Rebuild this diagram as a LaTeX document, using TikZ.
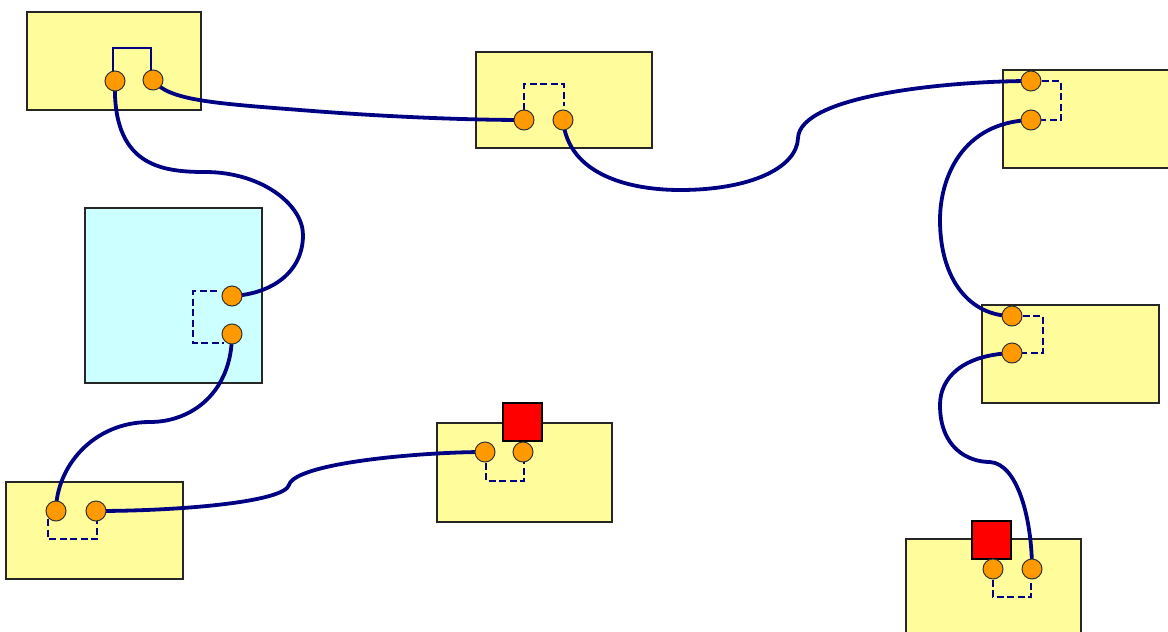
\documentclass[tikz,border=0pt]{standalone}
\usetikzlibrary{calc}
\definecolor{boxyellow}{RGB}{255,252,155}
\definecolor{boxcyan}{RGB}{204,255,255}
\definecolor{portorange}{RGB}{255,153,0}
\definecolor{wirenavy}{RGB}{0,0,130}
\definecolor{capred}{RGB}{255,0,0}
\pgfdeclarelayer{bg}
\pgfdeclarelayer{wires}
\pgfsetlayers{bg,wires,main}
\tikzset{
  unit/.style={draw=black!85, line width=1.2pt, fill=boxyellow},
  unitcyan/.style={draw=black!85, line width=1.2pt, fill=boxcyan},
  port/.style={circle, draw=black!80, line width=1pt, fill=portorange,
    minimum size=20pt, inner sep=0pt},
  capbox/.style={draw=black, line width=1.2pt, fill=capred},
  link/.style={draw=wirenavy, line width=1.3pt},
  linkdash/.style={link, dash pattern=on 7pt off 3.5pt},
  wire/.style={draw=wirenavy, line width=3.8pt, line cap=round},
}
\begin{document}
\begin{tikzpicture}[x=1pt,y=-1pt]
\useasboundingbox (0,0) rectangle (1168,632);

% port positions
\coordinate (a1) at (115,81);   \coordinate (a2) at (153,80);
\coordinate (b1) at (524,120);  \coordinate (b2) at (563,120);
\coordinate (c1) at (1031,81);  \coordinate (c2) at (1031,120);
\coordinate (d1) at (232,296);  \coordinate (d2) at (232,334);
\coordinate (e1) at (56,511);   \coordinate (e2) at (96,511);
\coordinate (f1) at (485,452);  \coordinate (f2) at (523,452);
\coordinate (g1) at (1012,316); \coordinate (g2) at (1012,353);
\coordinate (h1) at (993,569);  \coordinate (h2) at (1032,569);

% units
\begin{pgfonlayer}{bg}
  \path[unit] (27,12) rectangle (201,110);
  \path[unit] (476,52) rectangle (652,148);
  \path[unit] (1003,70) rectangle (1180,168);
  \path[unitcyan] (85,208) rectangle (262,383);
  \path[unit] (6,482) rectangle (183,579);
  \path[unit] (437,423) rectangle (612,522);
  \path[unit] (982,305) rectangle (1159,403);
  \path[unit] (906,539) rectangle (1081,645);
\end{pgfonlayer}

% internal links between port pairs, then the cables
\begin{pgfonlayer}{wires}
  \path[link] (113,81) -- (113,48) -- (151,48) -- (151,70);
  \path[linkdash] (524,110) -- (524,84) -- (564,84) -- (564,106);
  \path[linkdash] (1031,81) -- (1061,81) -- (1061,120) -- (1031,120);
  \path[linkdash] (217,291) -- (193,291) -- (193,343) -- (224,343);
  \path[linkdash] (48,519) -- (48,539) -- (97,539) -- (97,511);
  \path[linkdash] (486,452) -- (486,481) -- (524,481) -- (524,452);
  \path[linkdash] (1012,316) -- (1043,316) -- (1043,353) -- (1012,353);
  \path[linkdash] (993,569) -- (993,597) -- (1031,597) -- (1031,569);

  \path[wire] (a1) .. controls (112,165) and (160,172) .. (205,172)
     .. controls (262,172) and (303,205) .. (303,235)
     .. controls (303,272) and (272,294) .. (d1);
  \path[wire] (a2) .. controls (168,100) and (210,103) .. (300,110)
     .. controls (400,118) and (480,120) .. (b1);
  \path[wire] (b2) .. controls (568,175) and (630,190) .. (680,190)
     .. controls (750,190) and (797,168) .. (798,138)
     .. controls (800,95) and (950,81) .. (c1);
  \path[wire] (c2) .. controls (962,122) and (940,178) .. (940,220)
     .. controls (940,280) and (970,316) .. (g1);
  \path[wire] (g2) .. controls (962,355) and (940,378) .. (940,405)
     .. controls (940,448) and (968,462) .. (990,462)
     .. controls (1018,464) and (1032,520) .. (h2);
  \path[wire] (d2) .. controls (232,392) and (192,422) .. (150,422)
     .. controls (92,422) and (56,468) .. (e1);
  \path[wire] (e2) .. controls (180,511) and (284,502) .. (289,485)
     .. controls (295,463) and (420,452) .. (f1);
\end{pgfonlayer}

% red caps
\path[capbox] (503,403) rectangle (542,441);
\path[capbox] (972,521) rectangle (1011,559);

% ports
\foreach \p in {a1,a2,b1,b2,c1,c2,d1,d2,e1,e2,f1,f2,g1,g2,h1,h2}
  \node[port] (n\p) at (\p) {};
\end{tikzpicture}
\end{document}
